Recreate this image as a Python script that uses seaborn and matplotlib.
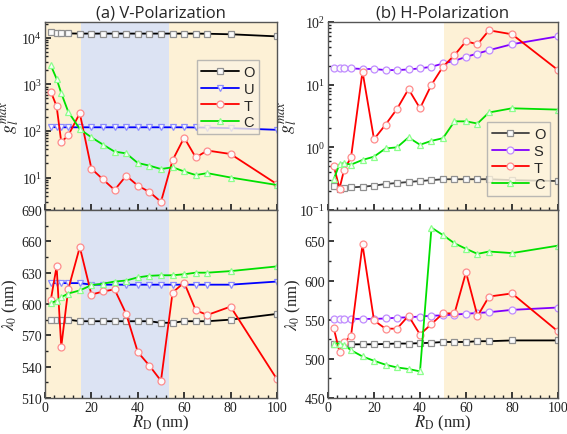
import matplotlib
matplotlib.use("Agg")
import matplotlib.pyplot as plt
from matplotlib.ticker import AutoMinorLocator, MultipleLocator, LogLocator, NullFormatter
import numpy as np
import seaborn as sns

# R_D values (nm)
rd = [2.5, 5, 7, 10, 15, 20, 25, 30, 35, 40, 45, 50, 55, 60, 65, 70, 80, 100]

# (a) V-polarization, g_l^max
g_O_v = [13500, 12800, 12700, 12500, 12400, 12400, 12400, 12400, 12400, 12400, 12400, 12400, 12400, 12400, 12400, 12300, 12000, 10800]
g_U_v = [122, 120, 120, 120, 120, 120, 120, 120, 120, 120, 120, 120, 120, 120, 119, 118, 115, 106]
g_T_v = [700, 340, 58, 80, 240, 15.5, 9.1, 5.4, 10.9, 6.7, 4.9, 3.0, 23.5, 72, 27, 38, 32, 7.2]
g_C_v = [2570, 1320, 650, 260, 110, 73, 51, 36, 33, 20.5, 18, 15.2, 16.6, 13.5, 11.3, 12.4, 10, 6.9]

# (a) V-polarization, lambda_0 (nm)
l_O_v = [585, 585, 585, 585, 583.5, 583.5, 583.5, 583.5, 583.5, 583.5, 583.5, 582, 582, 583.5, 583.5, 583.5, 585, 590.5]
l_U_v = [620, 620, 620, 620, 620, 618.5, 618.5, 618.5, 618.5, 618.5, 618.5, 618.5, 618.5, 618.5, 618.5, 618.5, 618.5, 621.5]
l_T_v = [604, 636, 559, 614, 654.5, 609, 612, 614, 590.5, 554, 541, 526.5, 611, 620.5, 594, 589.5, 597.5, 528]
l_C_v = [601, 603, 606.5, 610, 613, 618, 619.5, 621.5, 622.5, 625.5, 627, 627.5, 627.5, 628.5, 630, 630, 631.5, 636]

# (b) H-polarization, g_l^max
g_O_h = [0.24, 0.22, 0.225, 0.23, 0.235, 0.245, 0.26, 0.27, 0.28, 0.29, 0.30, 0.31, 0.31, 0.31, 0.31, 0.31, 0.30, 0.29]
g_S_h = [18.2, 18.2, 18.2, 18.2, 17.8, 17.8, 17.1, 17.1, 17.5, 18.2, 19.3, 21.8, 24, 27.8, 31.4, 35.5, 44.2, 59]
g_T_h = [0.51, 0.22, 0.44, 0.69, 16.2, 1.35, 2.3, 4.1, 8.5, 4.2, 10, 19.4, 29.6, 49.3, 44.1, 73.7, 63.7, 17.1]
g_C_h = [0.31, 0.54, 0.56, 0.53, 0.63, 0.71, 0.96, 1.0, 1.44, 1.1, 1.27, 1.4, 2.6, 2.6, 2.4, 3.6, 4.2, 4.0]

# (b) H-polarization, lambda_0 (nm)
l_O_h = [518.5, 518.5, 518.5, 518.5, 518.5, 518.5, 519, 519.5, 519.5, 520, 520.5, 521.5, 521.5, 521.5, 522.5, 522.5, 523.5, 523.5]
l_S_h = [551, 551, 551, 551, 551, 551, 551.5, 552.5, 553, 554, 555, 555.5, 556.5, 557.5, 558.5, 559.5, 562.5, 565.5]
l_T_h = [539, 509, 521.5, 529, 646, 549, 538.5, 538.5, 555, 531, 544.5, 558, 558, 610.5, 554.5, 579.5, 583.5, 535]
l_C_h = [519.5, 519.5, 517.5, 511, 503, 497.5, 492.5, 489, 487, 484, 667.5, 658, 647.5, 640.5, 634, 637, 635, 644.5]

# shaded R_D ranges
beige = '#FDF1D6'
blue = '#DCE3F3'
bands_v = [(0, 15.5, beige), (15.5, 53.5, blue), (53.5, 100, beige)]
bands_h = [(50.5, 100, beige)]

sns.set_theme(style="ticks")
plt.rcParams['font.family'] = ['Liberation Serif', 'DejaVu Serif']
plt.rcParams['mathtext.fontset'] = 'stix'

fig = plt.figure(figsize=(5.67, 4.35), dpi=100)
ax_gv = fig.add_axes([0.0794, 0.5149, 0.409, 0.4322])
ax_lv = fig.add_axes([0.0794, 0.0828, 0.409, 0.4321])
ax_gh = fig.add_axes([0.5785, 0.5149, 0.4056, 0.4322])
ax_lh = fig.add_axes([0.5785, 0.0828, 0.4056, 0.4321])

def draw(ax, y, color, marker, mec, label):
    sns.lineplot(x=rd, y=y, ax=ax, color=color, lw=1.3, marker=marker, markersize=5,
                 markeredgecolor=mec, markerfacecolor='#fbfbfb', markeredgewidth=0.9,
                 label=label, legend=False)

series_v = [('O', '#000000', 's', '#909090'), ('U', '#0000FF', 'v', '#8C8CFF'),
            ('T', '#FF0000', 'o', '#FF8C8C'), ('C', '#00E000', '^', '#8CFF8C')]
series_h = [('O', '#404040', 's', '#909090'), ('S', '#8000FF', 'o', '#C08CFF'),
            ('T', '#FF0000', 'o', '#FF8C8C'), ('C', '#00E000', '^', '#8CFF8C')]

for (lab, c, m, mec), y in zip(series_v, [g_O_v, g_U_v, g_T_v, g_C_v]):
    draw(ax_gv, y, c, m, mec, lab)
for (lab, c, m, mec), y in zip(series_v, [l_O_v, l_U_v, l_T_v, l_C_v]):
    draw(ax_lv, y, c, m, mec, lab)
for (lab, c, m, mec), y in zip(series_h, [g_O_h, g_S_h, g_T_h, g_C_h]):
    draw(ax_gh, y, c, m, mec, lab)
for (lab, c, m, mec), y in zip(series_h, [l_O_h, l_S_h, l_T_h, l_C_h]):
    c2 = '#000000' if lab == 'O' else c
    draw(ax_lh, y, c2, m, mec, lab)

for ax, bands in [(ax_gv, bands_v), (ax_lv, bands_v), (ax_gh, bands_h), (ax_lh, bands_h)]:
    for a, b, col in bands:
        ax.axvspan(a, b, color=col, lw=0, zorder=0)
    ax.set_xlim(0, 100)
    ax.xaxis.set_major_locator(MultipleLocator(20))
    ax.xaxis.set_minor_locator(AutoMinorLocator(5))
    ax.tick_params(which='both', direction='in', labelsize=10, colors='#222222', pad=2)
    ax.tick_params(which='major', length=4)
    ax.tick_params(which='minor', length=2)
    for s in ax.spines.values():
        s.set_color('#555555')
        s.set_linewidth(1.0)
    ax.set_xlabel('')
    ax.set_ylabel('')

for ax in [ax_gv, ax_gh]:
    ax.set_yscale('log')
    ax.tick_params(axis='x', labelbottom=False)
    ax.yaxis.set_minor_locator(LogLocator(base=10, subs=np.arange(2, 10)))
    ax.yaxis.set_minor_formatter(NullFormatter())
    ax.set_ylabel(r'$g_l^{max}$', fontsize=13, labelpad=0)

ax_gv.set_ylim(2, 2.2e4)
ax_gh.set_ylim(0.1, 100)
ax_gv.set_yticks([10, 100, 1000, 10000])
ax_gh.set_yticks([0.1, 1, 10, 100])

ax_lv.set_ylim(510, 690)
ax_lv.yaxis.set_major_locator(MultipleLocator(30))
ax_lh.set_ylim(450, 690)
ax_lh.yaxis.set_major_locator(MultipleLocator(50))
for ax in [ax_lv, ax_lh]:
    ax.yaxis.set_minor_locator(AutoMinorLocator(2))
    ax.set_ylabel(r'$\lambda_0$ (nm)', fontsize=12, labelpad=1)
    ax.set_xlabel(r'$R_\mathrm{D}$ (nm)', fontsize=12, labelpad=-1)

ax_gv.set_title('(a) V-Polarization', fontsize=12, family=['Open Sans', 'DejaVu Sans'], pad=4)
ax_gh.set_title('(b) H-Polarization', fontsize=12, family=['Open Sans', 'DejaVu Sans'], pad=4)

leg_kw = dict(loc='upper right', frameon=True, fancybox=False, edgecolor='#aaaaaa',
              handlelength=2.6, handletextpad=0.3, borderpad=0.3, labelspacing=0.2,
              prop={'family': 'Liberation Sans', 'size': 10.5})
lg1 = ax_gv.legend(bbox_to_anchor=(0.955, 0.835), **leg_kw)
lg1.get_frame().set_facecolor('#FBF3E2')
lg2 = ax_gh.legend(bbox_to_anchor=(0.995, 0.505), **leg_kw)
lg2.get_frame().set_facecolor('#FDF4DE')

fig.savefig('out.png', dpi=100)
